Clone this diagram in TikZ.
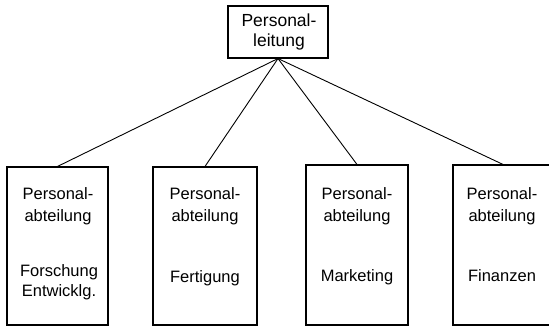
\documentclass[tikz,border=0pt]{standalone}
\usepackage{fontspec}
\setmainfont{Liberation Sans}
\begin{document}
\begin{tikzpicture}[x=1pt,y=-1pt,
  unit/.style={draw,line width=1.1pt,inner sep=0pt},
  lbl/.style={anchor=base,inner sep=0pt,font=\fontsize{16.5}{19}\selectfont},
  headlbl/.style={lbl,font=\fontsize{17.5}{20}\selectfont},
  link/.style={line width=0.9pt}]
\useasboundingbox (0,0) rectangle (549,328);
% head of personnel
\node[unit,minimum width=100pt,minimum height=52pt] (top) at (278,32) {};
\node[headlbl] (t1) at (279,27) {Personal-};
\node[headlbl] (t2) at (279,47) {leitung};
% department boxes
\node[unit,minimum width=101pt,minimum height=158pt] (b1) at (57.5,246) {};
\node[unit,minimum width=104pt,minimum height=158pt] (b2) at (205,246) {};
\node[unit,minimum width=102pt,minimum height=160pt] (b3) at (357,245) {};
\node[unit,minimum width=100pt,minimum height=160pt] (b4) at (503,245) {};
% labels
\foreach \n/\x in {1/58,2/205,3/357,4/502}{
  \node[lbl] (p\n) at (\x,200) {Personal-};
  \node[lbl] (a\n) at (\x,222) {abteilung};
}
\node[lbl] (f1) at (59,277) {Forschung};
\node[lbl] (e1) at (59,297) {Entwicklg.};
\node[lbl] (f2) at (205,283) {Fertigung};
\node[lbl] (f3) at (357,282) {Marketing};
\node[lbl] (f4) at (502,282) {Finanzen};
% connectors
\foreach \n in {1,2,3,4}{
  \draw[link] (top.south) -- (b\n.north);
}
\end{tikzpicture}
\end{document}
